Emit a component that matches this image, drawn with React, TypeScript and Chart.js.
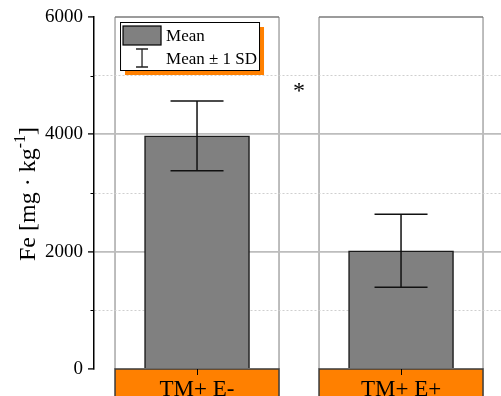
import React, { useEffect, useRef } from "react";
import { Chart, registerables } from "chart.js";

Chart.register(...registerables);

// ---- data ----
const categories = ["TM+ E-", "TM+ E+"];
const means = [3975, 2015];
const sds = [595, 622];
const yTicks = [0, 1000, 2000, 3000, 4000, 5000, 6000];
const majorTicks = [0, 2000, 4000, 6000];
const legendLabels = ["Mean", "Mean \u00B1 1 SD"];
const sigMark = "*";
const sigPosition = [0.5, 4780]; // between the two groups, in axis units
const yTitleMain = "Fe [mg \u00B7 kg";
const yTitleSup = "-1";
const yTitleEnd = "]";

// ---- style ----
const W = 501;
const H = 396;
const SERIF = '"Liberation Serif", "Times New Roman", serif';
const ORANGE = "#ff8000";
const BAR_GRAY = "#808080";
const PANEL_HALF = 82;

const panelPlugin = {
  id: "panels",
  beforeDraw(chart: any) {
    const { ctx, chartArea, scales } = chart;
    const xs = scales.x;
    ctx.save();
    categories.forEach((_, i) => {
      const cx = xs.getPixelForValue(i);
      const l = cx - PANEL_HALF;
      const r = cx + PANEL_HALF;
      ctx.strokeStyle = "#a8a8a8";
      ctx.lineWidth = 1.5;
      ctx.beginPath();
      ctx.moveTo(l, chartArea.bottom);
      ctx.lineTo(l, chartArea.top);
      ctx.moveTo(r, chartArea.top);
      ctx.lineTo(r, chartArea.bottom);
      ctx.stroke();
      ctx.strokeStyle = "#7a7a7a";
      ctx.beginPath();
      ctx.moveTo(l, chartArea.top);
      ctx.lineTo(r, chartArea.top);
      ctx.stroke();
      ctx.fillStyle = ORANGE;
      ctx.fillRect(l, chartArea.bottom, r - l, H - chartArea.bottom + 5);
      ctx.strokeStyle = "#3a3a3a";
      ctx.lineWidth = 1.5;
      ctx.strokeRect(l, chartArea.bottom, r - l, H - chartArea.bottom + 5);
    });
    ctx.restore();
  },
};

const errorBarPlugin = {
  id: "errorBars",
  afterDatasetsDraw(chart: any) {
    const { ctx, scales } = chart;
    const ys = scales.y;
    const meta = chart.getDatasetMeta(0);
    ctx.save();
    ctx.strokeStyle = "#111";
    ctx.lineWidth = 1.5;
    meta.data.forEach((el: any, i: number) => {
      const x = el.x;
      const yt = ys.getPixelForValue(means[i] + sds[i]);
      const yb = ys.getPixelForValue(means[i] - sds[i]);
      const cap = 26.5;
      ctx.beginPath();
      ctx.moveTo(x, yt);
      ctx.lineTo(x, yb);
      ctx.moveTo(x - cap, yt);
      ctx.lineTo(x + cap, yt);
      ctx.moveTo(x - cap, yb);
      ctx.lineTo(x + cap, yb);
      ctx.stroke();
    });
    ctx.restore();
  },
};

const decorPlugin = {
  id: "decor",
  afterDraw(chart: any) {
    const { ctx, scales, chartArea } = chart;
    const xs = scales.x;
    const ys = scales.y;
    ctx.save();

    // minor y ticks (short)
    ctx.strokeStyle = "#000";
    ctx.lineWidth = 1.2;
    ctx.beginPath();
    yTicks.filter((v) => !majorTicks.includes(v)).forEach((v) => {
      const py = Math.round(ys.getPixelForValue(v)) + 0.5;
      ctx.moveTo(chartArea.left - 3.5, py);
      ctx.lineTo(chartArea.left, py);
    });
    ctx.stroke();

    // legend box with orange shadow
    const lx = xs.getPixelForValue(0) - PANEL_HALF + 5;
    const ly = chartArea.top + 5;
    const lw = 139;
    const lh = 48;
    ctx.fillStyle = ORANGE;
    ctx.fillRect(lx + 5, ly + 5, lw, lh);
    ctx.fillStyle = "#fff";
    ctx.fillRect(lx, ly, lw, lh);
    ctx.strokeStyle = "#000";
    ctx.lineWidth = 1;
    ctx.strokeRect(lx + 0.5, ly + 0.5, lw, lh);
    ctx.fillStyle = BAR_GRAY;
    ctx.fillRect(lx + 3, ly + 4, 38, 19);
    ctx.strokeStyle = "#000";
    ctx.lineWidth = 1.2;
    ctx.strokeRect(lx + 3, ly + 4, 38, 19);
    ctx.strokeStyle = "#222";
    ctx.lineWidth = 1.3;
    ctx.beginPath();
    const ex = lx + 22;
    ctx.moveTo(ex, ly + 27);
    ctx.lineTo(ex, ly + 45);
    ctx.moveTo(ex - 6, ly + 27);
    ctx.lineTo(ex + 6, ly + 27);
    ctx.moveTo(ex - 6, ly + 45);
    ctx.lineTo(ex + 6, ly + 45);
    ctx.stroke();
    ctx.fillStyle = "#000";
    ctx.font = `17px ${SERIF}`;
    ctx.textAlign = "left";
    ctx.textBaseline = "alphabetic";
    ctx.fillText(legendLabels[0], lx + 46, ly + 19);
    ctx.fillText(legendLabels[1], lx + 46, ly + 42);

    // significance mark
    ctx.font = `24px ${SERIF}`;
    ctx.textAlign = "center";
    const m = ctx.measureText(sigMark);
    const sx = xs.getPixelForValue(sigPosition[0]);
    const sy = ys.getPixelForValue(sigPosition[1]);
    const gh = m.actualBoundingBoxAscent + m.actualBoundingBoxDescent;
    ctx.fillText(sigMark, sx, sy + m.actualBoundingBoxAscent - gh / 2 - 1);

    // y title with superscript
    ctx.translate(35, 194);
    ctx.rotate(-Math.PI / 2);
    const mainFont = `24px ${SERIF}`;
    const supFont = `16px ${SERIF}`;
    ctx.font = mainFont;
    const w1 = ctx.measureText(yTitleMain).width;
    const w3 = ctx.measureText(yTitleEnd).width;
    ctx.font = supFont;
    const w2 = ctx.measureText(yTitleSup).width;
    const total = w1 + w2 + w3;
    let x0 = -total / 2;
    ctx.textAlign = "left";
    ctx.font = mainFont;
    ctx.fillText(yTitleMain, x0, 0);
    x0 += w1;
    ctx.font = supFont;
    ctx.fillText(yTitleSup, x0, -10);
    x0 += w2;
    ctx.font = mainFont;
    ctx.fillText(yTitleEnd, x0, 0);

    ctx.restore();
  },
};

export default function App() {
  const ref = useRef<HTMLCanvasElement | null>(null);

  useEffect(() => {
    if (!ref.current) return;
    const chart = new Chart(ref.current, {
      type: "bar",
      data: {
        datasets: [
          {
            data: means.map((m, i) => ({ x: i, y: m })),
            backgroundColor: BAR_GRAY,
            borderColor: "#1a1a1a",
            borderWidth: 1.5,
            borderSkipped: "bottom",
            barThickness: 105,
          },
        ],
      },
      options: {
        responsive: false,
        animation: false,
        layout: { padding: { top: 17, right: 0, bottom: 0, left: 0 } },
        plugins: {
          legend: { display: false },
          tooltip: { enabled: false },
        },
        scales: {
          x: {
            type: "linear",
            offset: false,
            min: -0.505,
            max: 1.49,
            afterBuildTicks: (s: any) => {
              s.ticks = categories.map((_, i) => ({ value: i }));
            },
            afterFit: (s: any) => {
              s.height = H - 369;
            },
            ticks: {
              callback: (v: any) => categories[v] ?? "",
              font: { family: SERIF, size: 23 },
              color: "#000",
              padding: 1,
              autoSkip: false,
              maxRotation: 0,
            },
            grid: {
              offset: false,
              drawOnChartArea: false,
              drawTicks: true,
              tickLength: 6,
              tickColor: "#000",
              tickWidth: 1,
            },
            border: { display: false },
          },
          y: {
            min: 0,
            max: 6000,
            afterBuildTicks: (s: any) => {
              s.ticks = yTicks.map((v) => ({ value: v }));
            },
            afterFit: (s: any) => {
              s.width = 94;
            },
            ticks: {
              callback: (v: any) => (majorTicks.includes(v) ? String(v) : ""),
              font: { family: SERIF, size: 19 },
              color: "#000",
              padding: 5,
            },
            grid: {
              color: (c: any) => {
                const v = c.tick?.value;
                if (v === 0 || v === 6000) return "rgba(0,0,0,0)";
                return majorTicks.includes(v) ? "#bdbdbd" : "#cfcfcf";
              },
              lineWidth: (c: any) => (majorTicks.includes(c.tick?.value) ? 1.8 : 1),
              tickLength: 6,
              tickColor: (c: any) => (majorTicks.includes(c.tick?.value) ? "#000" : "rgba(0,0,0,0)"),
              tickWidth: 1.3,
            },
            border: {
              display: true,
              color: "#000",
              width: 1.5,
              dash: (c: any) => (c.tick && !majorTicks.includes(c.tick.value) ? [2, 2] : []),
            },
          },
        },
      },
      plugins: [panelPlugin, errorBarPlugin, decorPlugin],
    } as any);
    return () => chart.destroy();
  }, []);

  return (
    <div style={{ position: "fixed", left: 0, top: 0, width: W, height: H, background: "#fff" }}>
      <canvas ref={ref} width={W} height={H} style={{ width: W, height: H, display: "block" }} />
    </div>
  );
}
